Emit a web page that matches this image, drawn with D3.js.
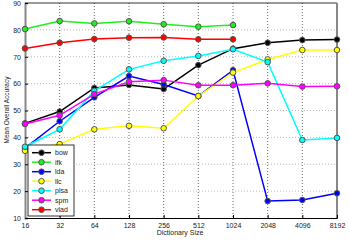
<!DOCTYPE html>
<html><head><meta charset="utf-8">
<script src="https://cdn.jsdelivr.net/npm/d3@7/dist/d3.min.js"></script>
<style>body{margin:0;background:#fff}svg{display:block;font-family:"Liberation Sans",Arial,sans-serif}</style>
</head><body><svg id="c" width="349" height="242"></svg>
<script>
const categories = ["16","32","64","128","256","512","1024","2048","4096","8192"];
const yTicks = [10,20,30,40,50,60,70,80,90];
const seriesNames = ["bow","ifk","lda","llc","plsa","spm","vlad"];
const seriesColors = ["#000000","#22ee22","#0000ff","#ffff00","#00ffff","#ff00ff","#ff0000"];
const bow  = [45.2,49.6,58.4,59.5,58.0,66.9,73.0,75.2,76.2,76.4];
const ifk  = [80.3,83.3,82.4,83.2,82.1,81.2,81.8,null,null,null];
const lda  = [36.0,46.0,54.9,62.8,59.7,55.4,65.0,16.3,16.7,19.2];
const llc  = [35.0,37.5,43.0,44.3,43.4,55.4,64.1,69.0,72.5,72.5];
const plsa = [36.5,43.0,57.3,65.3,68.5,70.3,72.8,68.0,39.0,39.8];
const spm  = [45.0,48.2,56.1,60.7,61.3,59.4,59.4,60.1,58.9,59.0];
const vlad = [73.1,75.2,76.6,77.1,77.2,76.5,76.5,null,null,null];
const seriesValues = [bow,ifk,lda,llc,plsa,spm,vlad];

const svg = d3.select("#c");
const L=25,R=337,T=3,B=218;
const x = d3.scalePoint().domain(categories).range([L,R]);
const y = d3.scaleLinear().domain([10,90]).range([B,T]);

// grid
const g = svg.append("g");
g.selectAll(".hg").data(yTicks.slice(1,-1)).enter().append("line")
 .attr("x1",L).attr("x2",R).attr("y1",d=>y(d)).attr("y2",d=>y(d))
 .attr("stroke","#aaa").attr("stroke-width",0.8).attr("stroke-dasharray","1,2");
g.selectAll(".vg").data(categories.slice(1,-1)).enter().append("line")
 .attr("x1",d=>x(d)).attr("x2",d=>x(d)).attr("y1",T).attr("y2",B)
 .attr("stroke","#444").attr("stroke-width",0.8).attr("stroke-dasharray","1,2");

// frame
svg.append("line").attr("x1",L).attr("x2",R).attr("y1",T).attr("y2",T).attr("stroke","#000").attr("stroke-width",0.8);
svg.append("line").attr("x1",R).attr("x2",R).attr("y1",T).attr("y2",B).attr("stroke","#888").attr("stroke-width",2);

// axes
const xa = svg.append("g").attr("transform",`translate(0,${B})`)
 .call(d3.axisBottom(x).tickSize(-3).tickPadding(5));
xa.select(".domain").attr("stroke","#000");
xa.selectAll("text").attr("font-size",7).attr("fill","#222");
const ya = svg.append("g").attr("transform",`translate(${L},0)`)
 .call(d3.axisLeft(y).tickValues(yTicks).tickSize(-3).tickPadding(4));
ya.select(".domain").attr("stroke","#888").attr("stroke-width",2);
ya.selectAll("text").attr("font-size",7).attr("fill","#222");

svg.append("text").attr("x",180).attr("y",235).attr("text-anchor","middle")
 .attr("font-size",7).attr("fill","#222").text("Dictionary Size");
svg.append("text").attr("transform","translate(9,110) rotate(-90)").attr("text-anchor","middle")
 .attr("font-size",6.5).attr("fill","#222").text("Mean Overall Accuracy");

// series
const line = d3.line().defined(d=>d.v!=null).x(d=>x(d.c)).y(d=>y(d.v));
seriesNames.forEach((name,i)=>{
  const pts = categories.map((c,j)=>({c,v:seriesValues[i][j]}));
  const sg = svg.append("g");
  sg.append("path").attr("d",line(pts)).attr("fill","none")
    .attr("stroke",seriesColors[i]).attr("stroke-width",1.5);
  sg.selectAll("circle").data(pts.filter(d=>d.v!=null)).enter().append("circle")
    .attr("cx",d=>x(d.c)).attr("cy",d=>y(d.v)).attr("r",2.8)
    .attr("fill",seriesColors[i]).attr("stroke","#555").attr("stroke-width",1);
});

// legend
const lg = svg.append("g");
lg.append("rect").attr("x",28).attr("y",145).attr("width",46).attr("height",71)
  .attr("fill","#fff").attr("stroke","#000").attr("stroke-width",0.8);
seriesNames.forEach((name,i)=>{
  const yy = 152.7 + i*9.5;
  lg.append("line").attr("x1",32).attr("x2",51).attr("y1",yy).attr("y2",yy)
    .attr("stroke",seriesColors[i]).attr("stroke-width",1.5);
  lg.append("circle").attr("cx",41.5).attr("cy",yy).attr("r",2.8)
    .attr("fill",seriesColors[i]).attr("stroke","#555").attr("stroke-width",1);
  lg.append("text").attr("x",55).attr("y",yy+2.5).attr("font-size",7).attr("fill","#222").text(name);
});
</script></body></html>
